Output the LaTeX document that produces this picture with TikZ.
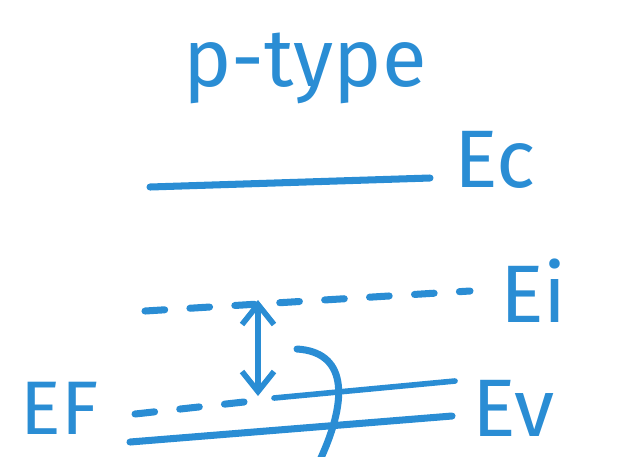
\documentclass[tikz,border=0pt]{standalone}
\usepackage{fontspec}
\setmainfont{Fira Sans}
\usetikzlibrary{positioning, arrows.meta}
\definecolor{ink}{HTML}{2A8DD4}

\begin{document}
\begin{tikzpicture}[
  x=0.025cm, y=-0.025cm,
  every node/.style={font=\fontsize{58}{58}\selectfont, text=ink, inner sep=0pt},
  band/.style={draw=ink, line width=5pt, line cap=round},
  level/.style={band, dash pattern=on 14pt off 18pt},
  gap/.style={{Straight Barb[length=5mm, width=8mm]}-{Straight Barb[length=5mm, width=8mm]}, ink, line width=4pt}
]
  \useasboundingbox (0,0) rectangle (623,456);

  % band edges
  \coordinate (ecL) at (150,187);
  \coordinate (ecR) at (430,178);
  \coordinate (eiL) at (145,311);
  \coordinate (eiR) at (470,291);
  \coordinate (evL) at (130,442);
  \coordinate (evR) at (452,416);
  \coordinate (efL) at (135,414);
  \coordinate (efM) at (262,400);
  \coordinate (efR) at (455,381);

  \node (title) at (305,68) {p-type};
  \node[right=0.6cm of ecR, yshift=0.45cm] (ec) {Ec};
  \node[right=0.75cm of eiR] (ei) {Ei};
  \node[right=0.5cm of evR, yshift=0.2cm] (ev) {Ev};
  \node[left=0.9cm of efL, yshift=0.15cm, font=\fontsize{54}{54}\selectfont] (ef) {EF};

  \draw[band] (ecL) -- (ecR);
  \draw[level] (eiL) -- (eiR);
  \draw[band] (evL) -- (evR);
  \draw[level] (efL) -- (efM);
  \draw[band, line width=4pt] (efM) ++(12,-2) -- (efR);

  % distance Ei - EF
  \coordinate (gapT) at (258,300);
  \coordinate (gapB) at (258,396);
  \draw[gap] (gapT) -- (gapB);

  % occupation curve
  \coordinate (fdS) at (297,349);
  \coordinate (fdE) at (320,460);
  \draw[band] (fdS) .. controls (345,352) and (350,395) .. (fdE);
\end{tikzpicture}
\end{document}
